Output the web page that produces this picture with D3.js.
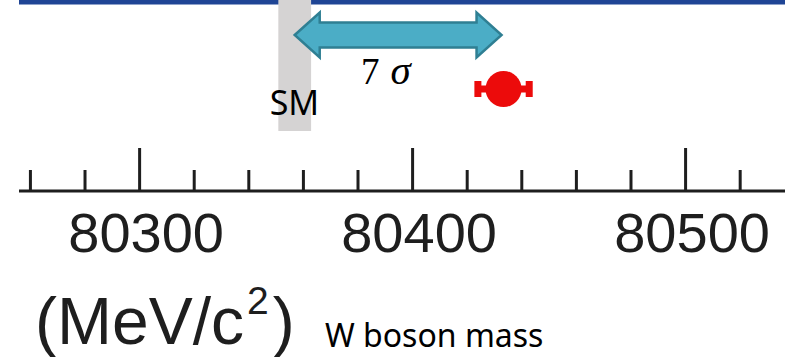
<!DOCTYPE html>
<html>
<head>
<meta charset="utf-8">
<script src="https://cdn.jsdelivr.net/npm/d3@7"></script>
<style>
  html, body { margin: 0; padding: 0; background: #ffffff; }
  svg { display: block; }
</style>
</head>
<body>
<svg id="chart" width="785" height="357"></svg>
<script>
// W boson mass, MeV/c^2
const majorTicks = [80300, 80400, 80500];
const minorTicks = [80260, 80280, 80320, 80340, 80360, 80380, 80420, 80440, 80460, 80480, 80520];
const tickLabels = ["80300", "80400", "80500"];

// Standard Model prediction (centre, half-width of band)
const smMass = 80357;
const smUnc = 6;
const smLabel = "SM";

// Measurement (centre, uncertainty)
const measMass = 80433.5;
const measUnc = 9.4;

const tensionLabel = ["7", "σ"];
const unitLabel = ["(MeV/c", "2", ")"];
const titleLabel = "W boson mass";

const svg = d3.select("#chart");
const W = 785;

const x = d3.scaleLinear().domain([80256, 80536.6]).range([19, 785]);

const axisY = 191;
const ink = "#1e1e1e";

// top rule
svg.append("rect")
  .attr("x", 19).attr("y", 0).attr("width", W - 19).attr("height", 4.5)
  .attr("fill", "#1f4595");

// SM band
svg.append("rect")
  .attr("x", x(smMass - smUnc)).attr("y", 0)
  .attr("width", x(smMass + smUnc) - x(smMass - smUnc)).attr("height", 131)
  .attr("fill", "#d5d3d3");

svg.append("text")
  .attr("x", x(smMass) - 25).attr("y", 115)
  .attr("font-family", "Noto Sans, DejaVu Sans, sans-serif").attr("font-size", 34)
  .attr("fill", "#000").text(smLabel);

// double arrow from SM to measurement
const ay = 35, headHalf = 22.5, shaftHalf = 12.5, headLen = 25;
const x0 = x(smMass), x1 = x(measMass) - 2;
const arrowPts = [
  [x0, ay], [x0 + headLen, ay - headHalf], [x0 + headLen, ay - shaftHalf],
  [x1 - headLen, ay - shaftHalf], [x1 - headLen, ay - headHalf], [x1, ay],
  [x1 - headLen, ay + headHalf], [x1 - headLen, ay + shaftHalf],
  [x0 + headLen, ay + shaftHalf], [x0 + headLen, ay + headHalf]
];
svg.append("path")
  .attr("d", d3.line()(arrowPts) + "Z")
  .attr("fill", "#4badc6").attr("stroke", "#2f7f93")
  .attr("stroke-width", 2.5).attr("stroke-linejoin", "miter");

const sig = svg.append("text")
  .attr("x", 361).attr("y", 84)
  .attr("font-family", "Liberation Serif, serif").attr("font-size", 37)
  .attr("fill", "#000");
sig.append("tspan").text(tensionLabel[0]);
sig.append("tspan").attr("dx", 11).attr("font-style", "italic").attr("font-size", 41).text(tensionLabel[1]);

// measurement with error bar
const my = 89;
const meas = svg.append("g").attr("fill", "#ec0b0b");
meas.append("rect")
  .attr("x", x(measMass - measUnc)).attr("y", my - 3.5)
  .attr("width", x(measMass + measUnc) - x(measMass - measUnc)).attr("height", 7);
[measMass - measUnc, measMass + measUnc].forEach(v => {
  meas.append("rect")
    .attr("x", x(v) - 3.5).attr("y", my - 8)
    .attr("width", 7).attr("height", 16);
});
meas.append("circle").attr("cx", x(measMass)).attr("cy", my).attr("r", 18);

// axis: baseline with ticks pointing up
const g = svg.append("g").attr("transform", `translate(0,${axisY})`);
g.append("line")
  .attr("x1", 19).attr("x2", W).attr("y1", 0).attr("y2", 0)
  .attr("stroke", ink).attr("stroke-width", 3);

const majorAxis = d3.axisTop(x).tickValues(majorTicks).tickSize(43).tickFormat("");
const minorAxis = d3.axisTop(x).tickValues(minorTicks).tickSize(21).tickFormat("");
[majorAxis, minorAxis].forEach(ax => {
  const a = g.append("g").call(ax);
  a.select(".domain").remove();
  a.selectAll(".tick line").attr("stroke", ink).attr("stroke-width", 3);
});

// tick labels
svg.append("g").selectAll("text")
  .data(majorTicks)
  .join("text")
  .attr("x", d => x(d) + 7).attr("y", 252)
  .attr("text-anchor", "middle")
  .attr("font-family", "Liberation Sans, Arial, sans-serif").attr("font-size", 56)
  .attr("fill", ink)
  .text((d, i) => tickLabels[i]);

// unit
const unit = svg.append("text")
  .attr("x", 35).attr("y", 344)
  .attr("font-family", "Liberation Sans, Arial, sans-serif").attr("font-size", 66)
  .attr("fill", ink);
unit.append("tspan").text(unitLabel[0]);
unit.append("tspan").attr("dy", -30).attr("dx", 3).attr("font-size", 39).text(unitLabel[1]);
unit.append("tspan").attr("dy", 30).attr("dx", 4).text(unitLabel[2]);

svg.append("text")
  .attr("x", 325).attr("y", 347)
  .attr("font-family", "Noto Sans, DejaVu Sans, sans-serif").attr("font-size", 32)
  .attr("fill", "#000").text(titleLabel);
</script>
</body>
</html>
